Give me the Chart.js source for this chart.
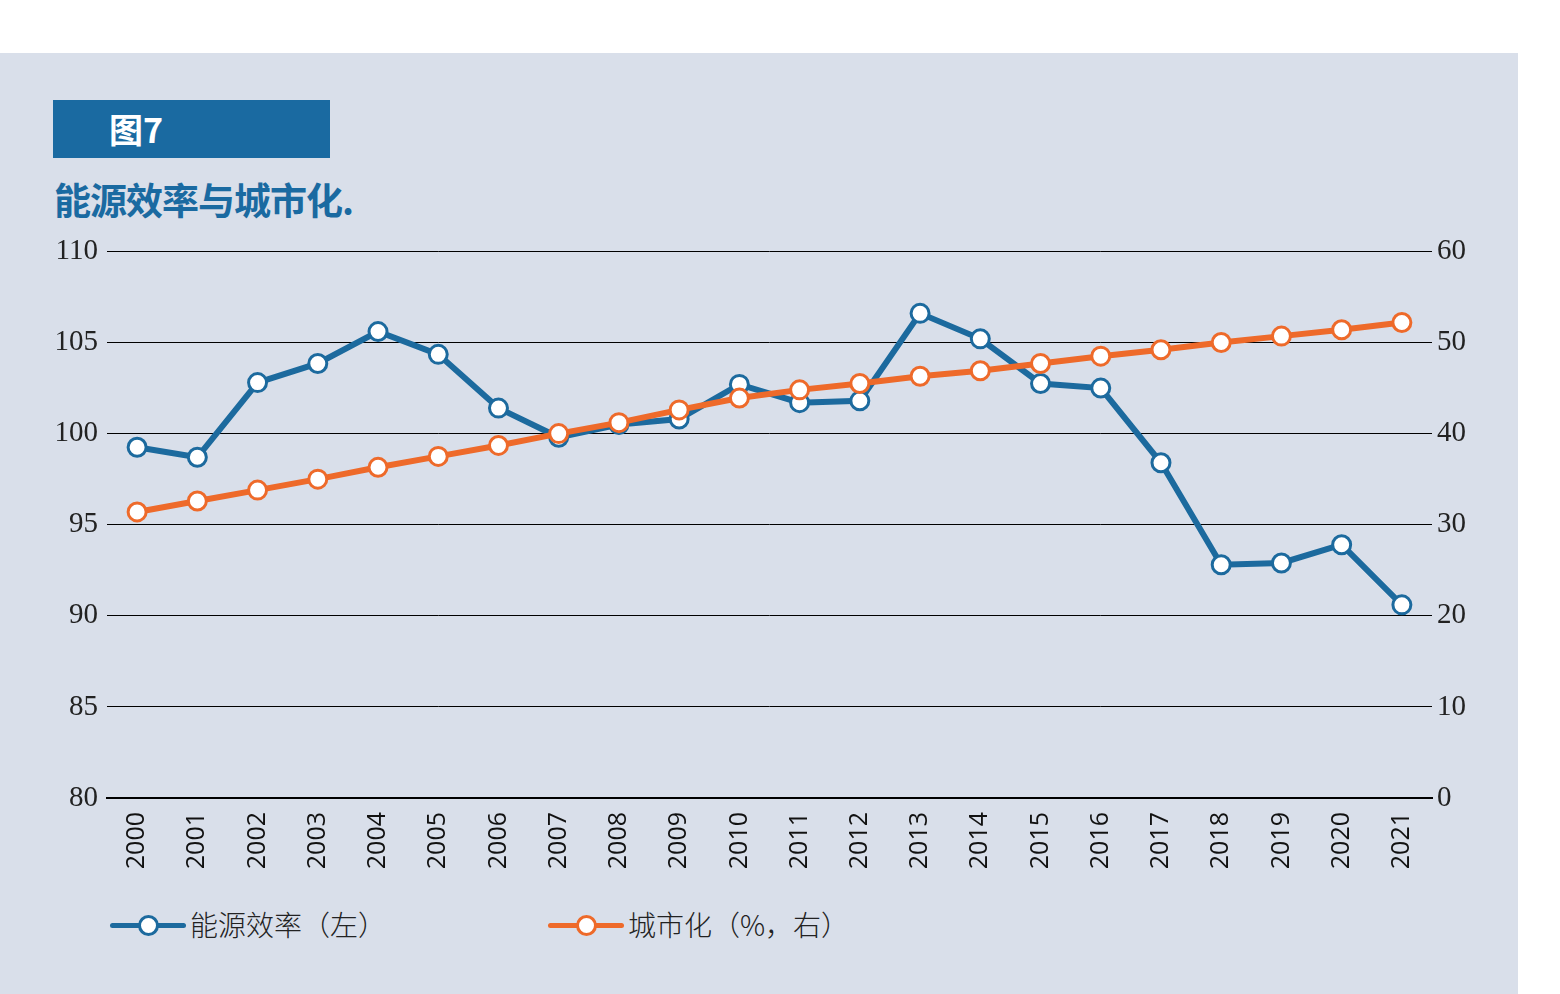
<!DOCTYPE html>
<html>
<head>
<meta charset="utf-8">
<script src="https://cdn.jsdelivr.net/npm/chart.js@4"></script>
<style>
  body { margin: 0; background: #fff; width: 1560px; height: 994px; overflow: hidden; }
  #panel { position: absolute; left: 0; top: 53px; width: 1518px; height: 941px; background: #d9dfea; }
  #tag { position: absolute; left: 53px; top: 100px; width: 277px; height: 58px; background: #1a6aa1; }
  #tag span { position: absolute; left: 56px; top: 9px; color: #fff; font: bold 34px "Noto Sans CJK SC", sans-serif; line-height: 40px; }
  #subtitle { position: absolute; left: 54px; top: 174px; color: #1a6aa1; font: bold 37px "Noto Sans CJK SC", sans-serif; line-height: 50px; letter-spacing: -1px; }
  #wrap { position: absolute; left: 0; top: 225px; width: 1518px; height: 665px; }
  .legend { position: absolute; top: 906px; height: 40px; font: 300 28px "Noto Sans CJK SC", sans-serif; color: #222; line-height: 40px; }
  .legend .ln { position: absolute; left: 0; top: 17px; width: 76px; height: 5px; border-radius: 3px; }
  .legend .pt { position: absolute; left: 28px; top: 9px; width: 15px; height: 15px; border-radius: 50%; background: #fff; border: 3px solid; }
  .legend .tx { position: absolute; left: 80px; top: -2px; white-space: nowrap; }
</style>
</head>
<body>
<div id="panel"></div>
<div id="tag"><span>图7</span></div>
<div id="subtitle">能源效率与城市化.</div>
<div id="wrap"><canvas id="chart" width="1518" height="665"></canvas></div>
<div class="legend" style="left:110px"><div class="ln" style="background:#1c6a9e"></div><div class="pt" style="border-color:#1c6a9e"></div><div class="tx">能源效率（左）</div></div>
<div class="legend" style="left:548px"><div class="ln" style="background:#ee6a2a"></div><div class="pt" style="border-color:#ee6a2a"></div><div class="tx">城市化（%，右）</div></div>
<script>
const years = ['2000','2001','2002','2003','2004','2005','2006','2007','2008','2009','2010',
  '2011','2012','2013','2014','2015','2016','2017','2018','2019','2020','2021'];
const efficiency = [99.25, 98.7, 102.8, 103.85, 105.6, 104.35, 101.4, 99.8, 100.5, 100.8, 102.7,
  101.7, 101.8, 106.6, 105.2, 102.75, 102.5, 98.4, 92.8, 92.9, 93.9, 90.6];
const urbanization = [31.4, 32.6, 33.8, 35.0, 36.3, 37.5, 38.7, 40.0, 41.2, 42.6, 43.9,
  44.8, 45.5, 46.3, 46.9, 47.7, 48.5, 49.2, 50.0, 50.7, 51.4, 52.2];

const blue = '#1c6a9e';
const orange = '#ee6a2a';
const tickFont = { family: '"Liberation Serif", serif', size: 29 };

const ctx = document.getElementById('chart').getContext('2d');
new Chart(ctx, {
  type: 'line',
  data: {
    labels: years,
    datasets: [
      {
        label: '能源效率（左）', data: efficiency, yAxisID: 'y', order: 2,
        borderColor: blue, borderWidth: 6, pointRadius: 9, pointBorderWidth: 3,
        pointBackgroundColor: '#fff', pointBorderColor: blue, tension: 0
      },
      {
        label: '城市化（%，右）', data: urbanization, yAxisID: 'y1', order: 1,
        borderColor: orange, borderWidth: 6, pointRadius: 9, pointBorderWidth: 3,
        pointBackgroundColor: '#fff', pointBorderColor: orange, tension: 0
      }
    ]
  },
  options: {
    responsive: false,
    animation: false,
    layout: { padding: { left: 0, right: 0, top: 21, bottom: 0 } },
    plugins: { legend: { display: false }, tooltip: { enabled: false } },
    scales: {
      x: {
        offset: true,
        grid: { display: false },
        border: { display: true, color: '#000', width: 2 },
        ticks: { color: '#111', font: { family: '"Open Sans", sans-serif', size: 25 }, minRotation: 90, maxRotation: 90, padding: 6 },
        afterFit: s => { s.height = 92; }
      },
      y: {
        position: 'left', min: 80, max: 110,
        ticks: { stepSize: 5, color: '#222', font: tickFont, padding: 9 },
        grid: { color: '#000', lineWidth: 1, drawTicks: false },
        border: { display: false },
        afterFit: s => { s.width = 107; }
      },
      y1: {
        position: 'right', min: 0, max: 60,
        ticks: { stepSize: 10, color: '#222', font: tickFont, padding: 5 },
        grid: { display: false, drawTicks: false },
        border: { display: false },
        afterFit: s => { s.width = 86; }
      }
    }
  }
});
</script>
</body>
</html>
